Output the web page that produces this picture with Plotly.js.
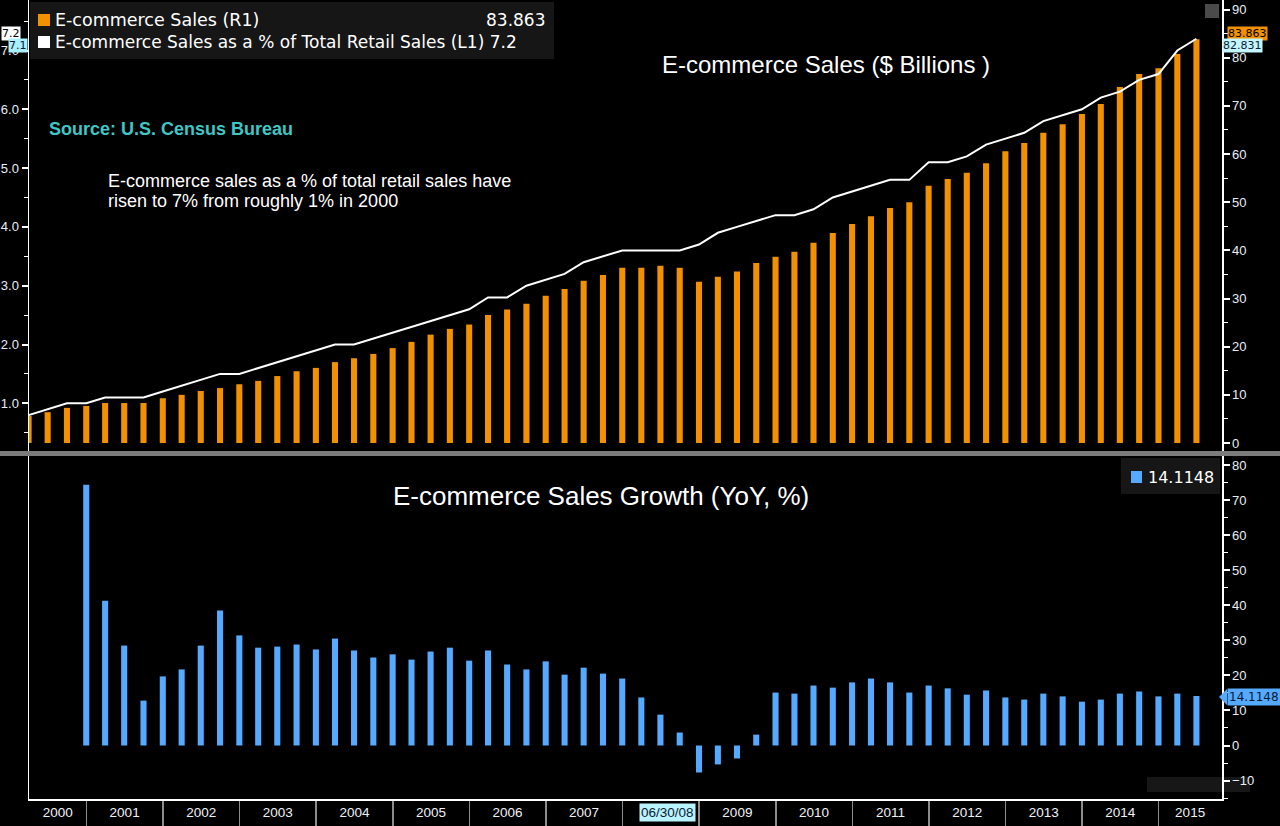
<!DOCTYPE html>
<html>
<head>
<meta charset="utf-8">
<script src="https://cdn.plot.ly/plotly-3.0.1.min.js"></script>
<style>
  html, body { margin: 0; padding: 0; background: #000; }
  #chart { width: 1280px; height: 826px; }
</style>
</head>
<body>
<div id="chart"></div>
<script>
// ---------------- DATA ----------------
const quarterEnds = [
  "2000-03-31","2000-06-30","2000-09-30","2000-12-31",
  "2001-03-31","2001-06-30","2001-09-30","2001-12-31",
  "2002-03-31","2002-06-30","2002-09-30","2002-12-31",
  "2003-03-31","2003-06-30","2003-09-30","2003-12-31",
  "2004-03-31","2004-06-30","2004-09-30","2004-12-31",
  "2005-03-31","2005-06-30","2005-09-30","2005-12-31",
  "2006-03-31","2006-06-30","2006-09-30","2006-12-31",
  "2007-03-31","2007-06-30","2007-09-30","2007-12-31",
  "2008-03-31","2008-06-30","2008-09-30","2008-12-31",
  "2009-03-31","2009-06-30","2009-09-30","2009-12-31",
  "2010-03-31","2010-06-30","2010-09-30","2010-12-31",
  "2011-03-31","2011-06-30","2011-09-30","2011-12-31",
  "2012-03-31","2012-06-30","2012-09-30","2012-12-31",
  "2013-03-31","2013-06-30","2013-09-30","2013-12-31",
  "2014-03-31","2014-06-30","2014-09-30","2014-12-31",
  "2015-03-31","2015-06-30"
];

// E-commerce Sales ($ Billions) - R1
const ecomSales = [
  5.6, 6.4, 7.3, 7.7,
  8.3, 8.3, 8.3, 9.3,
  10.0, 10.8, 11.4, 12.2,
  12.9, 13.9, 14.9, 15.6,
  16.8, 17.6, 18.5, 19.7,
  21.0, 22.5, 23.7, 24.6,
  26.6, 27.7, 28.9, 30.6,
  32.0, 33.7, 34.9, 36.4,
  36.4, 36.8, 36.4, 33.5,
  34.5, 35.6, 37.4, 38.7,
  39.7, 41.6, 43.6, 45.5,
  47.1, 48.8, 50.0, 53.4,
  54.8, 56.1, 58.1, 60.6,
  62.3, 64.4, 66.2, 68.3,
  70.4, 73.9, 76.6, 77.8,
  80.8, 83.863
];

// E-commerce Sales as a % of Total Retail Sales - L1
const ecomShare = [
  0.8, 0.9, 1.0, 1.0,
  1.1, 1.1, 1.1, 1.2,
  1.3, 1.4, 1.5, 1.5,
  1.6, 1.7, 1.8, 1.9,
  2.0, 2.0, 2.1, 2.2,
  2.3, 2.4, 2.5, 2.6,
  2.8, 2.8, 3.0, 3.1,
  3.2, 3.4, 3.5, 3.6,
  3.6, 3.6, 3.6, 3.7,
  3.9, 4.0, 4.1, 4.2,
  4.2, 4.3, 4.5, 4.6,
  4.7, 4.8, 4.8, 5.1,
  5.1, 5.2, 5.4, 5.5,
  5.6, 5.8, 5.9, 6.0,
  6.2, 6.3, 6.5, 6.6,
  7.0, 7.2
];

// E-commerce Sales Growth (YoY, %), from 2000 Q4
const growthDates = quarterEnds.slice(3);
const ecomGrowth = [
  74.4,
  41.3, 28.5, 12.8, 19.7,
  21.7, 28.5, 38.5, 31.4,
  27.9, 28.2, 28.8, 27.4,
  30.5, 27.1, 25.1, 26.0,
  24.5, 26.8, 27.9, 24.2,
  27.1, 23.1, 21.7, 24.0,
  20.2, 22.2, 20.5, 19.1,
  13.7, 8.8, 3.7, -7.7,
  -5.4, -3.7, 3.1, 15.1,
  14.8, 17.1, 16.5, 18.0,
  19.1, 18.0, 15.1, 17.1,
  16.3, 14.5, 15.7, 13.7,
  13.1, 14.8, 14.0, 12.5,
  13.1, 14.8, 15.4, 14.0,
  14.8, 14.1148
];

// x-axis labels (year periods) and separators
const yearLabels = ["2000","2001","2002","2003","2004","2005","2006","2007","","2009","2010","2011","2012","2013","2014","2015"];
const yearLabelPos = ["2000-08-17","2001-07-02","2002-07-02","2003-07-02","2004-07-02","2005-07-02","2006-07-02","2007-07-02","2008-07-02","2009-07-02","2010-07-02","2011-07-02","2012-07-02","2013-07-02","2014-07-02","2015-05-31"];
const yearStarts = ["2001-01-01","2002-01-01","2003-01-01","2004-01-01","2005-01-01","2006-01-01","2007-01-01","2008-01-01","2009-01-01","2010-01-01","2011-01-01","2012-01-01","2013-01-01","2014-01-01","2015-01-01"];

// ---------------- LAYOUT HELPERS ----------------
const PL = 29, PR = 1222, PT = 0, PB = 799;
const px = x => (x - PL) / (PR - PL);
const py = y => (PB - y) / (PB - PT);

const ORANGE = '#f29100';
const BLUE = '#55aaff';
const AXFONT = 'Liberation Sans, Arial, sans-serif';
const LGFONT = 'DejaVu Sans, Verdana, sans-serif';
const BAR_W = 29 * 86400000;

const traces = [
  {
    type: 'bar', x: quarterEnds, y: ecomSales, xaxis: 'x', yaxis: 'y',
    marker: { color: ORANGE, line: { width: 0 } }, width: BAR_W,
    name: 'E-commerce Sales (R1)', showlegend: false
  },
  {
    type: 'scatter', mode: 'lines', x: quarterEnds, y: ecomShare, xaxis: 'x', yaxis: 'y2',
    line: { color: '#ffffff', width: 2 },
    name: 'E-commerce Sales as a % of Total Retail Sales (L1)', showlegend: false
  },
  {
    type: 'bar', x: growthDates, y: ecomGrowth, xaxis: 'x', yaxis: 'y3',
    marker: { color: BLUE, line: { width: 0 } }, width: BAR_W,
    name: 'E-commerce Sales Growth', showlegend: false
  }
];

const tickFont = { family: AXFONT, size: 13, color: '#e8eef5' };

function box(x0, y0, x1, y1, color, layer) {
  return { type: 'rect', xref: 'paper', yref: 'paper', x0: px(x0), x1: px(x1), y0: py(y1), y1: py(y0),
           fillcolor: color, line: { width: 0 }, layer: layer || 'below' };
}
function note(x, y, text, size, color, xanchor, family, extra) {
  return Object.assign({ xref: 'paper', yref: 'paper', x: px(x), y: py(y), xanchor: xanchor || 'left',
    yanchor: 'middle', showarrow: false, text: text,
    font: { family: family || AXFONT, size: size, color: color } }, extra || {});
}

const layout = {
  width: 1280, height: 826,
  margin: { l: PL, r: 1280 - PR, t: PT, b: 826 - PB, pad: 0 },
  paper_bgcolor: '#000000',
  plot_bgcolor: '#000000',
  barmode: 'overlay',
  showlegend: false,
  xaxis: {
    type: 'date', anchor: 'y3', domain: [0, 1],
    range: ['2000-04-02', '2015-10-30'],
    showgrid: false, zeroline: false,
    showline: true, linecolor: '#ffffff', linewidth: 1.5,
    tickmode: 'array', tickvals: yearLabelPos, ticktext: yearLabels,
    ticks: '', tickfont: { family: AXFONT, size: 13.5, color: '#eef2f8' },
    minor: { tickmode: 'array', tickvals: yearStarts, ticks: 'outside', ticklen: 27, tickwidth: 1.5, tickcolor: '#8c8c8c', showgrid: false }
  },
  yaxis: { // right, R1
    domain: [py(451), 1], anchor: 'x', side: 'right',
    range: [-1.66, 91.99],
    tick0: 0, dtick: 10,
    showgrid: false, zeroline: false,
    showline: true, linecolor: '#ffffff', linewidth: 1.5,
    ticks: 'outside', ticklen: 6, tickwidth: 2, tickcolor: '#ffffff',
    minor: { dtick: 5, ticks: 'outside', ticklen: 4, tickwidth: 1, tickcolor: '#ffffff', showgrid: false },
    tickfont: tickFont
  },
  yaxis2: { // left, L1
    overlaying: 'y', anchor: 'x', side: 'left',
    range: [0.189, 7.859],
    tick0: 0, dtick: 1, tickformat: '.1f',
    showgrid: false, zeroline: false,
    showline: true, linecolor: '#ffffff', linewidth: 1.5,
    ticks: 'outside', ticklen: 6, tickwidth: 2, tickcolor: '#ffffff',
    minor: { dtick: 0.5, ticks: 'outside', ticklen: 4, tickwidth: 1, tickcolor: '#ffffff', showgrid: false },
    tickfont: tickFont
  },
  yaxis3: { // bottom, right
    domain: [0, py(456)], anchor: 'x', side: 'right',
    range: [-15.26, 82.57],
    tick0: 0, dtick: 10,
    showgrid: false, zeroline: false,
    showline: true, mirror: true, linecolor: '#ffffff', linewidth: 1.5,
    ticks: 'outside', ticklen: 6, tickwidth: 2, tickcolor: '#ffffff',
    minor: { dtick: 5, ticks: 'outside', ticklen: 4, tickwidth: 1, tickcolor: '#ffffff', showgrid: false },
    tickfont: tickFont
  },
  shapes: [
    box(0, 451, 1280, 456, '#7c7c7c'),          // panel separator
    box(30, 2, 554, 59, '#161616'),             // top legend box
    box(1121, 458, 1220, 494, '#161616'),       // bottom legend box
    box(1205, 4, 1219, 18, '#4a4a4a'),          // scroll widget
    box(1147, 777, 1250, 792, '#171717'),       // toolbar
    box(38, 14, 50, 26, ORANGE, 'above'),       // legend swatches
    box(38, 36, 50, 48, '#ffffff', 'above'),
    box(1131, 471, 1142, 483, BLUE, 'above'),
    // arrow of the 14.1148 tag
    { type: 'path', xref: 'paper', yref: 'paper',
      path: 'M ' + px(1219) + ',' + py(697) + ' L ' + px(1227) + ',' + py(689) + ' L ' + px(1227) + ',' + py(705) + ' Z',
      fillcolor: BLUE, line: { width: 0 }, layer: 'above' }
  ],
  annotations: [
    // top legend
    note(53, 20, 'E-commerce Sales (R1)', 17.5, '#ffffff', 'left', LGFONT),
    note(547, 20, '83.863', 17, '#ffffff', 'right', LGFONT),
    note(53, 42, 'E-commerce Sales as a % of Total Retail Sales (L1) 7.2', 17, '#ffffff', 'left', LGFONT),
    // bottom legend
    note(1146, 477, '14.1148', 16, '#ffffff', 'left', LGFONT),
    // titles
    note(826, 64, 'E-commerce Sales ($ Billions )', 24, '#ffffff', 'center'),
    note(601, 496, 'E-commerce Sales Growth (YoY, %)', 26, '#ffffff', 'center'),
    note(47, 129, '<b>Source: U.S. Census Bureau</b>', 18, '#3fc6c6'),
    note(106, 181, 'E-commerce sales as a % of total retail sales have', 18, '#ffffff'),
    note(106, 201, 'risen to 7% from roughly 1% in 2000', 18, '#ffffff'),
    // axis value tags
    note(1227, 34, '83.863', 11, '#000000', 'left', LGFONT, { bgcolor: ORANGE, borderpad: 0 }),
    note(1222, 46, '82.831', 11, '#0b1a33', 'left', LGFONT, { bgcolor: '#c4f6ff', borderpad: 0 }),
    note(1, 34, '7.2', 11, '#000000', 'left', LGFONT, { bgcolor: '#ffffff', borderpad: 0 }),
    note(28, 46, '7.1', 11, '#0b1a33', 'right', LGFONT, { bgcolor: '#a9efff', borderpad: 0 }),
    note(1227, 697, '14.1148', 12, '#0b1a33', 'left', LGFONT, { bgcolor: BLUE, borderpad: 1 }),
    note(667, 812, '06/30/08', 13.5, '#0b1a33', 'center', AXFONT, { bgcolor: '#b9f3ff', borderpad: 1 })
  ]
};

Plotly.newPlot('chart', traces, layout, { staticPlot: true, displayModeBar: false });
</script>
</body>
</html>
